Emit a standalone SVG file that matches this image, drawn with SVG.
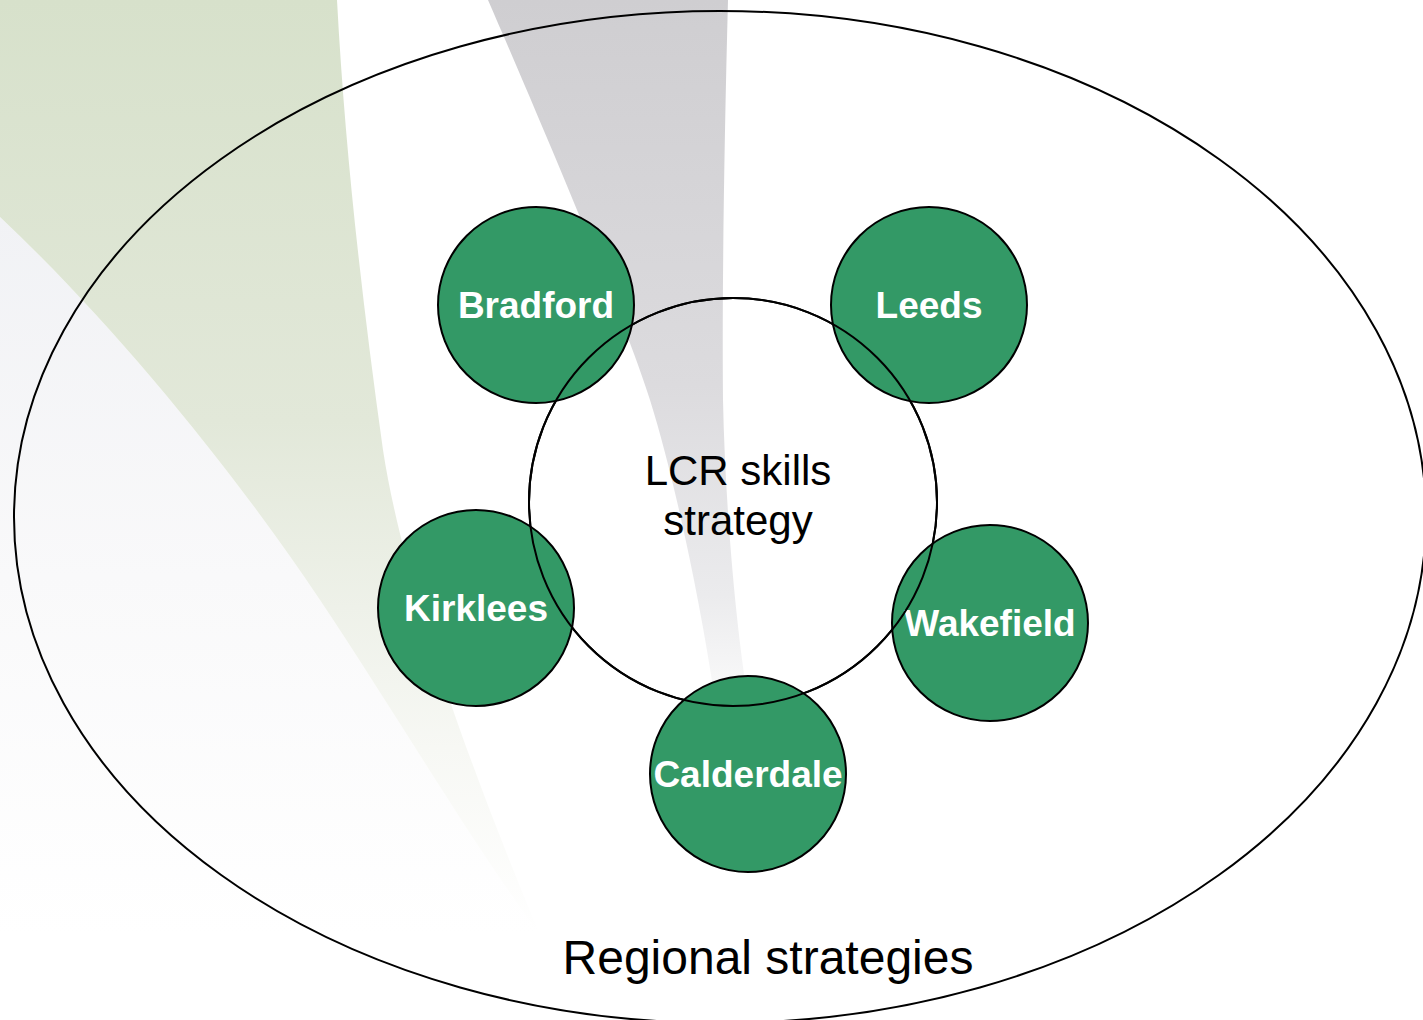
<svg xmlns="http://www.w3.org/2000/svg" width="1423" height="1020" viewBox="0 0 1423 1020">
<style>
.node{fill:#339966;stroke:#000;stroke-width:2}
.lbl{font-family:"Liberation Sans",Arial,sans-serif;font-weight:bold;font-size:37px;fill:#fff;text-anchor:middle}
.txt{font-family:"Liberation Sans",Arial,sans-serif;fill:#000;text-anchor:middle}
.ring{fill:none;stroke:#000;stroke-width:2}
</style>
<defs>
<linearGradient id="gGreen" x1="0" y1="0" x2="0" y2="1">
<stop offset="0" stop-color="#d7e1cb"/>
<stop offset="0.45" stop-color="#e2e8d9"/>
<stop offset="0.65" stop-color="#eef1e9"/>
<stop offset="0.8" stop-color="#f7f8f4"/>
<stop offset="1" stop-color="#ffffff"/>
</linearGradient>
<linearGradient id="gGray" x1="0" y1="0" x2="0" y2="1">
<stop offset="0" stop-color="#cfced1"/>
<stop offset="0.55" stop-color="#dcdbde"/>
<stop offset="0.85" stop-color="#ebebed"/>
<stop offset="1" stop-color="#fafafa"/>
</linearGradient>
<linearGradient id="gLight" x1="0" y1="0" x2="0" y2="1">
<stop offset="0" stop-color="#f1f2f5"/>
<stop offset="0.5" stop-color="#f9f9fa"/>
<stop offset="1" stop-color="#ffffff"/>
</linearGradient>
</defs>
<rect width="1423" height="1020" fill="#fff"/>
<g id="background">
<path d="M0,217 C120,330 240,480 320,600 C400,720 470,840 540,935 L0,935 Z" fill="url(#gLight)"/>
<path d="M0,0 L337,0 C345,150 362,300 383,450 C400,560 450,720 540,935 C470,840 400,720 320,600 C240,480 120,330 0,217 Z" fill="url(#gGreen)"/>
<path d="M488,0 L728,0 C724,150 722,300 723,400 C725,500 735,620 748,700 L715,700 C700,600 675,480 650,400 C625,320 540,120 488,0 Z" fill="url(#gGray)"/>
</g>
<g id="regional">
<ellipse class="ring" cx="720" cy="517" rx="706" ry="506"/>
<text class="txt" x="768" y="974" font-size="48">Regional strategies</text>
</g>
<g id="lcr">
<circle class="ring" cx="733" cy="502" r="204"/>
<text class="txt" x="738" y="485" font-size="42">LCR skills</text>
<text class="txt" x="738" y="535" font-size="42">strategy</text>
</g>
<g id="bradford">
<circle class="node" cx="536" cy="305" r="98"/>
<text class="lbl" x="536" y="318">Bradford</text>
</g>
<g id="leeds">
<circle class="node" cx="929" cy="305" r="98"/>
<text class="lbl" x="929" y="318">Leeds</text>
</g>
<g id="kirklees">
<circle class="node" cx="476" cy="608" r="98"/>
<text class="lbl" x="476" y="621">Kirklees</text>
</g>
<g id="wakefield">
<circle class="node" cx="990" cy="623" r="98"/>
<text class="lbl" x="990" y="636">Wakefield</text>
</g>
<g id="calderdale">
<circle class="node" cx="748" cy="774" r="98"/>
<text class="lbl" x="748" y="787">Calderdale</text>
</g>
<g id="overlay">
<circle class="ring" cx="733" cy="502" r="204"/>
</g>
<g id="connectors"/>
</svg>
